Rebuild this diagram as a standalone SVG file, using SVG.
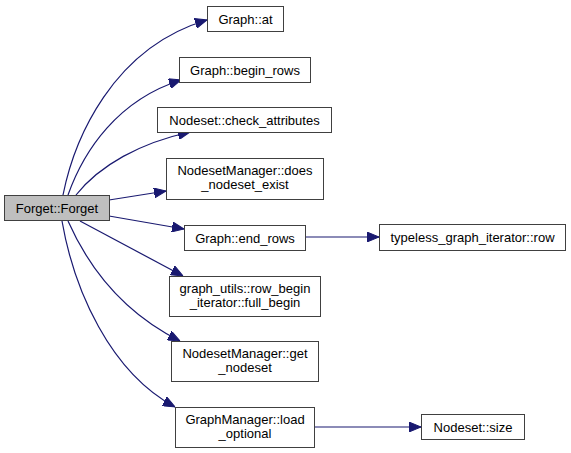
<svg xmlns="http://www.w3.org/2000/svg" width="571" height="453" viewBox="0 0 571 453">
<style>
.n rect{fill:#fff;stroke:#404040;stroke-width:1}
.n text{font-family:"Liberation Sans",Arial,sans-serif;font-size:13px;fill:#000;text-anchor:middle}
.e path{fill:none;stroke:#191970;stroke-width:1.2}
</style>
<defs>
<marker id="ah" viewBox="0 0 12 10" refX="12" refY="5" markerWidth="12" markerHeight="10" markerUnits="userSpaceOnUse" orient="auto">
<path d="M0,0 L12,5 L0,10 Z" fill="#191970" stroke="#191970"/>
</marker>
</defs>
<rect width="571" height="453" fill="#fff"/>
<g class="e" id="edges">
<path d="M63,195 C74,140 112,48 207,20" marker-end="url(#ah)"/>
<path d="M68,195 C84,150 118,100 181,80" marker-end="url(#ah)"/>
<path d="M76,195 C100,165 140,143 190,132" marker-end="url(#ah)"/>
<path d="M109,200 L166,191" marker-end="url(#ah)"/>
<path d="M109,216 L184,229" marker-end="url(#ah)"/>
<path d="M80,221 L183,276" marker-end="url(#ah)"/>
<path d="M68,221 C88,266 122,312 180,341" marker-end="url(#ah)"/>
<path d="M62,221 C74,290 110,372 175,407" marker-end="url(#ah)"/>
<path d="M305,237 L379,237" marker-end="url(#ah)"/>
<path d="M314,427 L421,427" marker-end="url(#ah)"/>
</g>
<g class="n" id="forget"><rect x="4.5" y="195.5" width="105" height="25" style="fill:#bfbfbf"/><text x="57" y="212.5">Forget::Forget</text></g>
<g class="n" id="graph_at"><rect x="207.5" y="6.5" width="76" height="25"/><text x="245.5" y="23.5">Graph::at</text></g>
<g class="n" id="begin_rows"><rect x="179.5" y="57.5" width="131" height="25"/><text x="245" y="74.5">Graph::begin_rows</text></g>
<g class="n" id="check_attributes"><rect x="157.5" y="107.5" width="174" height="25"/><text x="244.5" y="124.5">Nodeset::check_attributes</text></g>
<g class="n" id="does_nodeset_exist"><rect x="166.5" y="158.5" width="157" height="41"/><text x="245" y="175">NodesetManager::does</text><text x="245" y="189">_nodeset_exist</text></g>
<g class="n" id="end_rows"><rect x="184.5" y="225.5" width="121" height="25"/><text x="245" y="242.5">Graph::end_rows</text></g>
<g class="n" id="full_begin"><rect x="169.5" y="276.5" width="151" height="40"/><text x="245" y="292.5">graph_utils::row_begin</text><text x="245" y="306.5">_iterator::full_begin</text></g>
<g class="n" id="get_nodeset"><rect x="171.5" y="341.5" width="147" height="40"/><text x="245" y="357.5">NodesetManager::get</text><text x="245" y="371.5">_nodeset</text></g>
<g class="n" id="load_optional"><rect x="175.5" y="407.5" width="139" height="40"/><text x="245" y="423.5">GraphManager::load</text><text x="245" y="437.5">_optional</text></g>
<g class="n" id="tgi_row"><rect x="379.5" y="224.5" width="186" height="26"/><text x="472.5" y="241.5">typeless_graph_iterator::row</text></g>
<g class="n" id="nodeset_size"><rect x="421.5" y="414.5" width="103" height="25"/><text x="473" y="431.5">Nodeset::size</text></g>
</svg>
